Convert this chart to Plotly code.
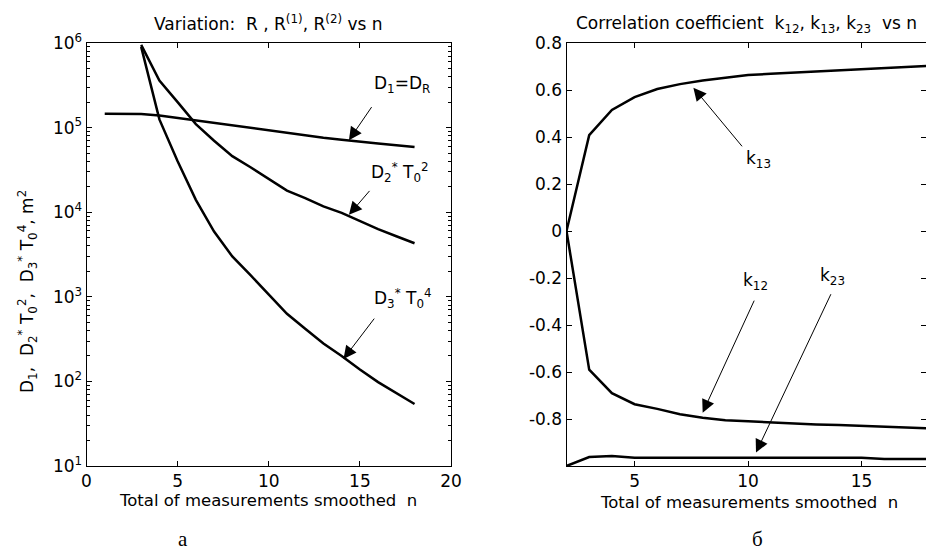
import math
import plotly.graph_objects as go

W, H = 926, 551

# ---- data (left panel) ----
n_d1 = list(range(1, 19))
d1 = [1.46e5, 1.46e5, 1.45e5, 1.39e5, 1.30e5, 1.21e5, 1.13e5, 1.06e5, 9.9e4,
      9.2e4, 8.6e4, 8.15e4, 7.6e4, 7.2e4, 6.9e4, 6.5e4, 6.2e4, 5.9e4]
n_d23 = list(range(3, 19))
d2 = [9.5e5, 3.6e5, 2.0e5, 1.1e5, 7.0e4, 4.6e4, 3.4e4, 2.5e4, 1.8e4, 1.47e4,
      1.17e4, 9.8e3, 7.8e3, 6.3e3, 5.2e3, 4.3e3]
d3 = [9.0e5, 1.25e5, 4.0e4, 1.4e4, 5.9e3, 3.0e3, 1.8e3, 1.05e3, 630, 420,
      280, 200, 138, 98, 72, 54]

# ---- data (right panel) ----
n_k = list(range(2, 19))
k13 = [0, 0.408, 0.515, 0.57, 0.604, 0.625, 0.64, 0.653, 0.664, 0.669, 0.674,
       0.679, 0.684, 0.69, 0.695, 0.70, 0.703]
k12 = [0, -0.59, -0.69, -0.737, -0.757, -0.78, -0.795, -0.805, -0.81, -0.815,
       -0.82, -0.823, -0.826, -0.83, -0.833, -0.835, -0.84]
k23 = [-1, -0.962, -0.957, -0.965, -0.965, -0.965, -0.965, -0.965, -0.965,
       -0.965, -0.965, -0.965, -0.965, -0.965, -0.97, -0.97, -0.97]

left_xticks = [0, 5, 10, 15, 20]
left_yticks = [1e1, 1e2, 1e3, 1e4, 1e5, 1e6]
left_yticktext = ["10<sup>1</sup>", "10<sup>2</sup>", "10<sup>3</sup>",
                  "10<sup>4</sup>", "10<sup>5</sup>", "10<sup>6</sup>"]
right_xticks = [5, 10, 15]
right_yticks = [-0.8, -0.6, -0.4, -0.2, 0, 0.2, 0.4, 0.6, 0.8]
right_yticktext = ["-0.8", "-0.6", "-0.4", "-0.2", "0", "0.2", "0.4", "0.6", "0.8"]

FONT = "DejaVu Sans, Arial, sans-serif"
SERIF = "Liberation Serif, Times New Roman, serif"
FS = 17

def px(x):
    return x / W

def py(y):
    return 1 - y / H

line = dict(color="black", width=2.5)
fig = go.Figure()
fig.add_trace(go.Scatter(x=n_d1, y=d1, mode="lines", line=line, xaxis="x", yaxis="y"))
fig.add_trace(go.Scatter(x=n_d23, y=d2, mode="lines", line=line, xaxis="x", yaxis="y"))
fig.add_trace(go.Scatter(x=n_d23, y=d3, mode="lines", line=line, xaxis="x", yaxis="y"))
fig.add_trace(go.Scatter(x=n_k, y=k13, mode="lines", line=line, xaxis="x2", yaxis="y2"))
fig.add_trace(go.Scatter(x=n_k, y=k12, mode="lines", line=line, xaxis="x2", yaxis="y2"))
fig.add_trace(go.Scatter(x=n_k, y=k23, mode="lines", line=line, xaxis="x2", yaxis="y2"))

minor_vals = [m * 10 ** e for e in range(1, 6) for m in range(2, 10)]

axis_common = dict(showline=True, linecolor="black", linewidth=1, mirror="ticks",
                   ticks="inside", ticklen=5, tickcolor="black", showgrid=False,
                   zeroline=False, automargin=False,
                   tickfont=dict(family=FONT, size=FS, color="black"))

ydom = [py(466), py(43)]
fig.update_layout(
    width=W, height=H, margin=dict(l=0, r=0, t=0, b=0, pad=0), autosize=False,
    paper_bgcolor="white", plot_bgcolor="white", showlegend=False,
    xaxis=dict(domain=[px(86.5), px(451)], range=[0, 20], tickmode="array",
               tickvals=left_xticks, anchor="y", **axis_common),
    yaxis=dict(domain=ydom, type="log", range=[1, 6], tickmode="array",
               tickvals=left_yticks, ticktext=left_yticktext, anchor="x",
               minor=dict(tickmode="array", tickvals=minor_vals, ticks="inside",
                          ticklen=3, tickcolor="black", showgrid=False),
               **axis_common),
    xaxis2=dict(domain=[px(566.5), 1.0], range=[2, 17.84], tickmode="array",
                tickvals=right_xticks, anchor="y2", **axis_common),
    yaxis2=dict(domain=ydom, range=[-1, 0.8], tickmode="array",
                tickvals=right_yticks, ticktext=right_yticktext, anchor="x2",
                **axis_common),
)

ann = []
def text(x, y, s, size=FS, fam=FONT, angle=0):
    ann.append(dict(x=px(x), y=py(y), xref="paper", yref="paper", text=s,
                    showarrow=False, xanchor="center", yanchor="middle",
                    textangle=angle, font=dict(family=fam, size=size, color="black")))

# titles
text(268, 23, "Variation:  R , R<sup>(1)</sup>, R<sup>(2)</sup> vs n")
text(746, 24, "Correlation coefficient  k<sub>12</sub>, k<sub>13</sub>, k<sub>23</sub>  vs n")
# axis titles
text(268, 500, "Total of measurements smoothed  n", 16.5)
text(749, 502, "Total of measurements smoothed  n", 16.5)
text(27, 292, "D<sub>1</sub>,  D<sub>2</sub><sup>*</sup> T<sub>0</sub><sup>2</sup>,  "
     "D<sub>3</sub><sup>*</sup> T<sub>0</sub><sup>4</sup>, m<sup>2</sup>", angle=-90)
# panel letters
text(183, 539, "a", 21, SERIF)
text(757, 539, "б", 21, SERIF)

# curve labels
text(402, 84, "D<sub>1</sub>=D<sub>R</sub>")
text(400, 172, "D<sub>2</sub><sup>*</sup> T<sub>0</sub><sup>2</sup>")
text(403, 298, "D<sub>3</sub><sup>*</sup> T<sub>0</sub><sup>4</sup>")
text(758, 160, "k<sub>13</sub>")
text(755, 281, "k<sub>12</sub>")
text(832, 276, "k<sub>23</sub>")

def arrow(xr, yr, hx, hy, tx, ty, log=False):
    if log:
        hy, ty = math.log10(hy), math.log10(ty)
    ann.append(dict(x=hx, y=hy, ax=tx, ay=ty, xref=xr, yref=yr,
                    axref=xr, ayref=yr, text="", showarrow=True, arrowhead=2,
                    arrowsize=2.6, arrowwidth=1, arrowcolor="black"))

arrow("x", "y", 14.4, 7.1e4, 15.7, 1.82e5, log=True)
arrow("x", "y", 14.4, 9.3e3, 15.6, 1.86e4, log=True)
arrow("x", "y", 14.1, 184, 15.85, 575, log=True)
arrow("x2", "y2", 7.59, 0.61, 9.79, 0.354)
arrow("x2", "y2", 8.0, -0.773, 10.3, -0.29)
arrow("x2", "y2", 10.35, -0.943, 13.68, -0.2626)

fig.update_layout(annotations=ann)
fig.write_html(
    "out.html",
    config={"displayModeBar": False},
    post_script="document.body.style.margin='0';document.body.style.padding='0';"
                "document.documentElement.style.overflow='hidden';",
)
